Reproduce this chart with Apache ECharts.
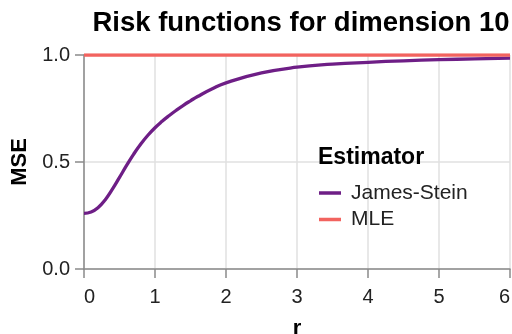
<!DOCTYPE html>
<html>
<head>
<meta charset="utf-8">
<script src="https://cdn.jsdelivr.net/npm/echarts@6/dist/echarts.min.js"></script>
<style>
  html, body { margin: 0; padding: 0; background: #fff; }
  #chart { width: 512px; height: 334px; }
</style>
</head>
<body>
<div id="chart"></div>
<script>
// values
const rValues = [0, 0.1, 0.2, 0.3, 0.4, 0.5, 0.6, 0.7, 0.8, 0.9, 1, 1.1, 1.2, 1.3, 1.4, 1.5, 1.6, 1.8, 2, 2.5, 3, 3.5, 4, 4.5, 5, 5.5, 6]
const jamesStein = [0.260, 0.266, 0.287, 0.324, 0.373, 0.428, 0.484, 0.537, 0.584, 0.625, 0.660, 0.690, 0.717, 0.742, 0.765, 0.786, 0.806, 0.841, 0.870, 0.916, 0.943, 0.957, 0.966, 0.973, 0.978, 0.982, 0.985]
const mle = rValues.map(() => 1)
const xTicks = [0, 1, 2, 3, 4, 5, 6]
const yTicks = [0, 0.5, 1]

const purple = '#6e1e86'
const red = '#f2635f'
const font = 'Liberation Sans, Arial, sans-serif'

const chart = echarts.init(document.getElementById('chart'), null, { renderer: 'canvas' })

chart.setOption({
  animation: false,
  textStyle: { fontFamily: font },
  title: [{
    text: 'Risk functions for dimension 10',
    left: 296,
    top: 4,
    textAlign: 'center',
    textStyle: { fontSize: 27.5, fontWeight: 'bold', color: '#000', fontFamily: font }
  }, {
    text: 'Estimator',
    left: 313,
    top: 141.5,
    textStyle: { fontSize: 23, fontWeight: 'bold', color: '#000', fontFamily: font }
  }],
  legend: {
    orient: 'vertical',
    left: 319,
    top: 182.5,
    padding: 0,
    itemWidth: 22,
    itemHeight: 3.5,
    itemGap: 5.5,
    icon: 'rect',
    textStyle: { fontSize: 21, color: '#222', fontFamily: font, padding: [0, 0, 0, 5] },
    data: ['James-Stein', 'MLE']
  },
  grid: { left: 84, right: 2, top: 55, bottom: 65, containLabel: false, outerBoundsMode: 'none' },
  xAxis: {
    type: 'value',
    min: xTicks[0],
    max: xTicks[xTicks.length - 1],
    interval: 1,
    name: 'r',
    nameLocation: 'middle',
    nameGap: 49,
    nameTextStyle: { fontSize: 22, fontWeight: 'bold', color: '#000', fontFamily: font },
    axisLine: { show: true, onZero: false, lineStyle: { color: '#8a8a8a', width: 1.5 } },
    axisTick: { show: true, length: 9, lineStyle: { color: '#8a8a8a', width: 1.5 } },
    axisLabel: {
      fontSize: 20, color: '#222', margin: 18, fontFamily: font,
      alignMinLabel: 'left', alignMaxLabel: 'right'
    },
    splitLine: { show: true, lineStyle: { color: '#e0e0e0', width: 1.5 } }
  },
  yAxis: {
    type: 'value',
    min: yTicks[0],
    max: yTicks[yTicks.length - 1],
    interval: 0.5,
    name: 'MSE',
    nameLocation: 'middle',
    nameGap: 52.5,
    nameRotate: 90,
    nameTextStyle: { fontSize: 22, fontWeight: 'bold', color: '#000', fontFamily: font },
    axisLine: { show: true, lineStyle: { color: '#8a8a8a', width: 1.5 } },
    axisTick: { show: true, length: 9, lineStyle: { color: '#8a8a8a', width: 1.5 } },
    axisLabel: {
      fontSize: 20, color: '#222', margin: 14, fontFamily: font,
      formatter: v => v.toFixed(1)
    },
    splitLine: { show: true, lineStyle: { color: '#e0e0e0', width: 1.5 } }
  },
  series: [{
    name: 'James-Stein',
    type: 'line',
    data: rValues.map((r, i) => [r, jamesStein[i]]),
    smooth: 0.5,
    symbol: 'none',
    color: purple,
    lineStyle: { color: purple, width: 3.3 }
  }, {
    name: 'MLE',
    type: 'line',
    data: rValues.map((r, i) => [r, mle[i]]),
    symbol: 'none',
    color: red,
    lineStyle: { color: red, width: 3.3 }
  }]
})
</script>
</body>
</html>
